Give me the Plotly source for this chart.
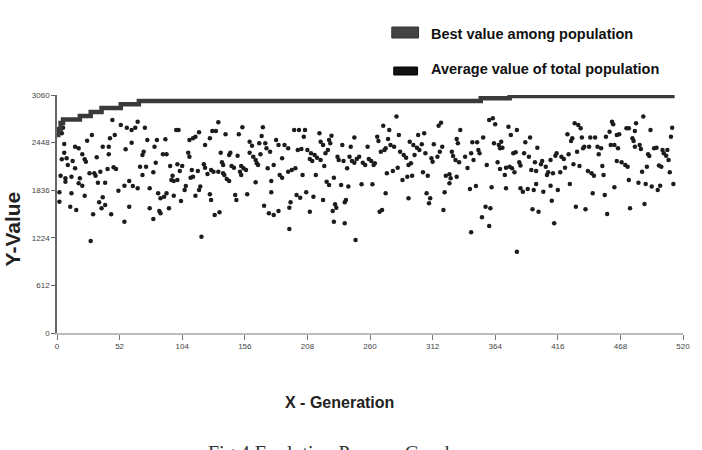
import plotly.graph_objects as go

# ---- data ----
x_ticks = [0, 52, 104, 156, 208, 260, 312, 364, 416, 468, 520]
y_ticks = [0, 612, 1224, 1836, 2448, 3060]

best_gen = [0, 1, 3, 5, 19, 28, 37, 53, 68, 352, 376, 513]
best_val = [2546, 2620, 2700, 2746, 2790, 2842, 2893, 2941, 2983, 3018, 3048, 3048]

avg_a = [(5,2640),(4,2568),(46,2739),(53,2675),(58,2640),(62,2610),(29,2546),(25,2473),(48,2546),(44,2504),(6,2430),(15,2396),(18,2375),(38,2396),(43,2396),(57,2362),(6,2319),(21,2298),(43,2298),(4,2234),(8,2247),(13,2212),(23,2234),(24,2203),(33,2260),(9,2160),(15,2118),(47,2131),(49,2109),(42,2109),(36,2074),(27,2054),(31,2054),(32,2023),(3,2023),(7,1989),(12,2010),(7,1946),(19,1989),(18,1925),(21,1894),(34,1933),(40,1933),(60,1955),(56,1894),(51,1830),(2,1809),(2,1688),(12,1796),(23,1766),(38,1745),(35,1681),(40,1646),(37,1604),(11,1624),(16,1582),(30,1526),(45,1526),(60,1624),(56,1431),(28,1183)]
avg_b = [(67,2717),(65,2640),(73,2640),(99,2610),(101,2610),(118,2581),(115,2524),(113,2504),(110,2482),(127,2504),(62,2447),(75,2482),(83,2482),(90,2491),(81,2396),(123,2418),(72,2331),(71,2289),(88,2298),(91,2298),(109,2319),(110,2267),(82,2190),(69,2139),(74,2139),(94,2148),(100,2169),(104,2148),(122,2169),(123,2126),(112,2096),(117,2083),(128,2096),(102,2083),(80,2066),(71,2032),(125,2045),(96,2023),(95,1968),(97,1955),(100,1968),(111,1997),(113,2010),(107,1890),(106,1839),(119,1882),(118,1839),(63,1890),(67,1860),(77,1860),(84,1796),(89,1753),(86,1732),(91,1796),(97,1766),(115,1766),(127,1784),(103,1698),(77,1604),(85,1569),(86,1539),(93,1604),(80,1466),(120,1238)]
avg_c = [(134,2710),(129,2598),(132,2598),(140,2555),(154,2645),(151,2555),(171,2645),(170,2533),(160,2460),(162,2409),(168,2439),(173,2439),(174,2375),(182,2482),(184,2418),(189,2418),(192,2375),(136,2319),(143,2289),(144,2319),(150,2280),(160,2319),(163,2267),(165,2225),(166,2182),(167,2160),(169,2298),(177,2331),(187,2247),(137,2195),(138,2160),(145,2148),(147,2126),(153,2148),(155,2118),(157,2096),(152,2074),(153,2032),(130,2074),(134,2074),(138,2054),(139,2032),(141,1980),(143,1955),(175,2118),(180,2160),(185,2032),(187,1997),(192,2074),(195,2096),(178,1955),(165,1938),(178,1809),(158,1784),(148,1775),(149,1710),(128,1710),(194,1681),(193,1611),(172,1637),(135,1552),(131,1517),(176,1539),(180,1517),(184,1569),(193,1337)]
avg_d = [(282,2782),(317,2666),(319,2704),(271,2666),(276,2611),(284,2546),(300,2546),(305,2568),(335,2611),(197,2611),(201,2611),(206,2611),(205,2524),(218,2568),(228,2537),(247,2512),(266,2524),(267,2469),(275,2495),(277,2418),(280,2396),(293,2460),(296,2418),(299,2383),(301,2353),(303,2427),(313,2427),(320,2396),(332,2495),(333,2440),(219,2460),(221,2418),(226,2482),(227,2440),(237,2418),(244,2396),(258,2396),(200,2353),(203,2366),(208,2353),(211,2311),(214,2289),(216,2254),(219,2225),(223,2311),(225,2353),(233,2267),(234,2225),(238,2212),(241,2118),(243,2267),(245,2212),(247,2190),(249,2238),(251,2267),(254,2190),(256,2160),(259,2238),(261,2212),(263,2160),(264,2182),(269,2331),(272,2353),(273,2375),(285,2331),(288,2289),(290,2254),(292,2160),(294,2182),(297,2289),(306,2311),(311,2247),(312,2203),(316,2267),(318,2331),(328,2331),(329,2276),(331,2225),(334,2195),(339,2267),(210,2238),(212,2212),(198,2118),(204,2032),(215,2032),(222,2148),(224,1946),(226,1903),(230,1997),(236,1903),(242,1882),(253,1912),(262,1912),(274,2054),(279,2083),(283,2126),(287,1968),(291,2010),(295,2023),(304,2066),(308,2023),(323,2023),(326,2041),(327,1989),(326,1925),(332,2010),(199,1775),(202,1740),(207,1809),(213,1753),(221,1710),(231,1655),(232,1611),(239,1681),(240,1710),(210,1560),(229,1569),(273,1796),(292,1732),(307,1796),(310,1732),(309,1668),(322,1809),(321,1582),(268,1560),(270,1582),(230,1431),(239,1411),(248,1196)]
avg_e = [(382,1046),(344,1295),(359,1376),(353,1488),(356,1624),(360,1604),(413,1411),(411,1701),(395,1591),(400,1560),(431,1624),(439,1591),(457,1530),(476,1604),(488,1659),(343,1852),(348,1890),(361,1874),(373,1861),(385,1861),(387,1817),(391,1852),(396,1839),(398,1916),(404,1817),(410,1894),(416,1839),(426,1916),(445,1796),(455,1775),(463,1874),(475,1968),(483,1933),(489,1916),(494,1882),(499,1839),(501,1894),(512,1916)]
avg_f = [(359,2739),(362,2761),(364,2684),(375,2653),(382,2611),(377,2546),(354,2512),(345,2452),(349,2452),(344,2311),(350,2353),(351,2311),(346,2225),(363,2440),(367,2418),(369,2460),(368,2375),(370,2383),(357,2160),(366,2195),(368,2109),(373,2126),(376,2139),(378,2118),(380,2066),(372,2032),(379,2311),(381,2324),(384,2195),(385,2152),(388,2311),(392,2267),(389,2452),(393,2512),(399,2383),(394,2096),(398,2083),(397,2195),(402,2169),(403,2212),(406,2139),(407,2032),(408,2066),(412,2054),(410,2225),(414,2280),(415,2311),(419,2267),(421,2238),(422,2126),(418,2066),(425,2298),(424,2555),(427,2469),(428,2504),(430,2697),(433,2675),(435,2632),(436,2512),(429,2169),(434,2148),(432,2331),(438,2396),(437,2375),(443,2512),(447,2512),(442,2396),(449,2396),(452,2375),(450,2298),(441,2083),(444,2054),(446,2023),(453,2148),(454,2032),(456,2524),(459,2589),(461,2717),(462,2684),(460,2418),(463,2418),(465,2546),(467,2555),(466,2375),(465,2212),(469,2195),(472,2160),(474,2139),(473,2632),(475,2632),(478,2504),(479,2469),(481,2697),(487,2782),(480,2598),(480,2396),(484,2418),(485,2366),(486,2074),(490,2139),(493,2611),(491,2298),(492,2276),(496,2375),(498,2383),(500,2152),(502,2139),(503,2353),(504,2311),(506,2280),(508,2225),(507,2353),(509,2066),(511,2640),(510,2524),(341,2122)]

avg_points = avg_a + avg_b + avg_c + avg_d + avg_e + avg_f
avg_gen = [p[0] for p in avg_points]
avg_val = [p[1] for p in avg_points]

legend_labels = ["Best value among population", "Average value of total population"]

FAM = "Liberation Sans, Arial, sans-serif"

def bold(t):
    return '<b>' + t + '</b>'

fig = go.Figure()
fig.add_trace(go.Scatter(
    x=avg_gen, y=avg_val, mode="markers",
    marker=dict(size=4.5, color="#1c1c1c"),
    showlegend=False, hoverinfo="x+y"))
fig.add_trace(go.Scatter(
    x=best_gen, y=best_val, mode="lines", line_shape="hv",
    line=dict(color="#3a3a3a", width=4.5),
    showlegend=False))

def px(xp):
    return (xp - 57) / 632.0
def py(yp):
    return (333 - yp) / 238.0

fig.add_shape(type="rect", xref="paper", yref="paper",
              x0=px(395), x1=px(422), y0=py(38), y1=py(27),
              fillcolor="#444444", line=dict(color="#333333", width=1))
fig.add_shape(type="rect", xref="paper", yref="paper",
              x0=px(397), x1=px(421), y0=py(75), y1=py(67),
              fillcolor="#111111", line=dict(color="#000000", width=1))
fig.add_annotation(x=px(433), y=py(34), xref="paper", yref="paper",
                   text=bold(legend_labels[0]), showarrow=False,
                   xanchor="left", yanchor="middle",
                   font=dict(family=FAM, size=14.5, color="#111111"))
fig.add_annotation(x=px(433), y=py(69), xref="paper", yref="paper",
                   text=bold(legend_labels[1]), showarrow=False,
                   xanchor="left", yanchor="middle",
                   font=dict(family=FAM, size=14.5, color="#111111"))

fig.add_annotation(x=px(12), y=py(229), xref="paper", yref="paper",
                   text=bold("Y-Value"), textangle=-90, showarrow=False,
                   xanchor="center", yanchor="middle",
                   font=dict(family=FAM, size=21, color="#222222"))
fig.add_annotation(x=px(342), y=py(402), xref="paper", yref="paper",
                   text=bold("X - Generation"), showarrow=False,
                   xanchor="center", yanchor="middle",
                   font=dict(family=FAM, size=16, color="#222222"))
fig.add_annotation(x=px(207), y=py(440), xref="paper", yref="paper",
                   text="Fig.4 Evolution Process Graph", showarrow=False,
                   xanchor="left", yanchor="top",
                   font=dict(family="Liberation Serif, Times New Roman, serif",
                             size=20, color="#333333"))

TICKFONT = dict(family=FAM, size=8, color="#444444")
fig.update_xaxes(range=[0, 520], tickvals=x_ticks, ticktext=[str(v) for v in x_ticks],
                 showgrid=False, zeroline=False, showline=True,
                 linecolor="#bbbbbb", linewidth=1.5,
                 ticks="outside", ticklen=5, tickcolor="#777777",
                 tickfont=TICKFONT)
fig.update_yaxes(range=[0, 3060], tickvals=y_ticks, ticktext=[str(v) for v in y_ticks],
                 showgrid=False, zeroline=False, showline=True,
                 linecolor="#666666", linewidth=1.5,
                 ticks="outside", ticklen=4, tickcolor="#666666",
                 tickfont=TICKFONT)

fig.update_layout(width=702, height=450,
                  margin=dict(l=57, r=13, t=95, b=117),
                  paper_bgcolor="white", plot_bgcolor="white",
                  showlegend=False)

fig.write_html("out.html")
